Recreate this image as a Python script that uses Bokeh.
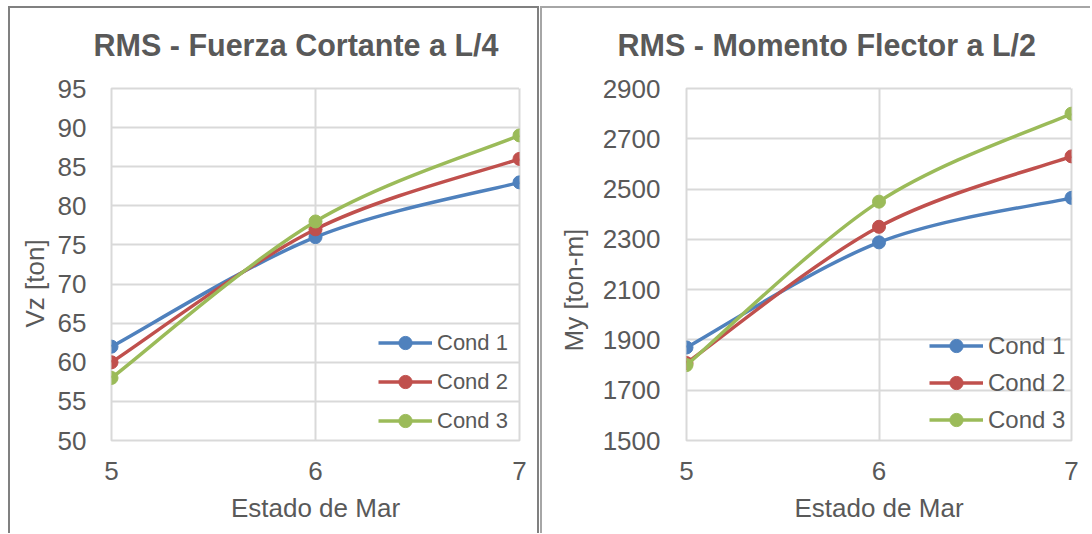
from bokeh.plotting import figure
from bokeh.layouts import row
from bokeh.models import (Range1d, FixedTicker, Legend, LegendItem, ColumnDataSource,
                          Title, LinearAxis)
from bokeh.embed import file_html
from bokeh.resources import INLINE

# ---- data ----
estado = [5, 6, 7]
series_names = ["Cond 1", "Cond 2", "Cond 3"]
vz_cond1 = [62, 76, 83]
vz_cond2 = [60, 77, 86]
vz_cond3 = [58, 78, 89]
my_cond1 = [1870, 2288, 2465]
my_cond2 = [1808, 2350, 2630]
my_cond3 = [1800, 2450, 2800]
vz_ticks = [50, 55, 60, 65, 70, 75, 80, 85, 90, 95]
my_ticks = [1500, 1700, 1900, 2100, 2300, 2500, 2700, 2900]
x_ticks = [5, 6, 7]

colors = ["#4F81BD", "#C0504D", "#9BBB59"]
TXT = "#595959"
GRID = "#D9D9D9"
FONT = "Liberation Sans"
H = 525


def smooth_segments(xs, ys):
    """Cardinal (Catmull-Rom) Bezier control points, like a smoothed Excel line."""
    n = len(xs)
    d = dict(x0=[], y0=[], x1=[], y1=[], cx0=[], cy0=[], cx1=[], cy1=[])
    for i in range(n - 1):
        xp, yp = (xs[i - 1], ys[i - 1]) if i > 0 else (xs[i], ys[i])
        xn, yn = (xs[i + 2], ys[i + 2]) if i + 2 < n else (xs[i + 1], ys[i + 1])
        d["x0"].append(xs[i]); d["y0"].append(ys[i])
        d["x1"].append(xs[i + 1]); d["y1"].append(ys[i + 1])
        d["cx0"].append(xs[i] + (xs[i + 1] - xp) / 6.0)
        d["cy0"].append(ys[i] + (ys[i + 1] - yp) / 6.0)
        d["cx1"].append(xs[i + 1] - (xn - xs[i]) / 6.0)
        d["cy1"].append(ys[i + 1] - (yn - ys[i]) / 6.0)
    return ColumnDataSource(d)


def make_chart(title, ylabel, series, yticks, width, left, frame_w, title_offset,
               tick_standoff, ylab_offset, ylab_standoff, legend_size, legend_x,
               legend_y, item_h, styles):
    p = figure(width=width, height=H, output_backend="svg", toolbar_location=None,
               x_range=Range1d(5, 7), y_range=Range1d(yticks[0], yticks[-1]),
               min_border_left=left, min_border_right=width - left - frame_w,
               min_border_top=80, min_border_bottom=H - 80 - 350, styles=styles)
    p.frame_width = frame_w
    p.frame_height = 350
    p.background_fill_color = "white"
    p.border_fill_color = "white"
    p.outline_line_color = GRID
    p.outline_line_width = 2

    p.title.text = title
    p.title.text_font = FONT
    p.title.text_font_size = "30.5px"
    p.title.text_font_style = "bold"
    p.title.text_color = TXT
    p.title.align = "left"
    p.title.offset = title_offset
    p.title.standoff = 0

    for g in (p.xgrid, p.ygrid):
        g.grid_line_color = GRID
        g.grid_line_width = 2

    xa = p.below[0]
    ya = p.left[0]
    xa.ticker = FixedTicker(ticks=x_ticks)
    ya.ticker = FixedTicker(ticks=yticks)
    for ax in (xa, ya):
        ax.axis_line_color = None
        ax.major_tick_line_color = None
        ax.minor_tick_line_color = None
        ax.major_label_text_font = FONT
        ax.major_label_text_font_size = "26px"
        ax.major_label_text_color = TXT
        ax.axis_label_text_font = FONT
        ax.axis_label_text_font_size = "26px"
        ax.axis_label_text_font_style = "normal"
        ax.axis_label_text_color = TXT
    xa.axis_label = "Estado de Mar"
    xa.major_label_standoff = 15
    xa.axis_label_standoff = 10
    ya.major_label_standoff = tick_standoff

    # blank strip above the plot area (white, label-less tick at the right edge),
    # so that the chart title sits higher as in the original
    spacer = LinearAxis(ticker=FixedTicker(ticks=[x_ticks[-1]]), axis_line_color=None,
                        major_tick_line_color="white", major_tick_line_width=1,
                        minor_tick_line_color=None, major_tick_out=27, major_tick_in=0,
                        major_label_standoff=0, major_label_text_font_size="1px",
                        major_label_overrides={x_ticks[-1]: ""})
    p.add_layout(spacer, "above")

    # y-axis title, placed like Excel's (a little below the plot-area centre)
    ytitle = Title(text=ylabel, align="left", offset=ylab_offset, standoff=ylab_standoff,
                   vertical_align="bottom", text_font=FONT, text_font_size="26px",
                   text_font_style="normal", text_color=TXT)
    p.add_layout(ytitle, "left")

    items = []
    for name, ys, c in zip(series_names, series, colors):
        src = smooth_segments(estado, ys)
        p.bezier(x0="x0", y0="y0", x1="x1", y1="y1", cx0="cx0", cy0="cy0",
                 cx1="cx1", cy1="cy1", source=src, line_color=c, line_width=3.5)
        lr = p.line(estado, ys, line_color=c, line_width=3.5, visible=False)
        sr = p.scatter(estado, ys, size=13, fill_color=c, line_color=c)
        items.append(LegendItem(label=name, renderers=[lr, sr]))

    leg = Legend(items=items, location=(legend_x, legend_y), orientation="vertical")
    leg.background_fill_alpha = 0
    leg.border_line_color = None
    leg.padding = 0
    leg.margin = 0
    leg.spacing = 0
    leg.glyph_width = 54
    leg.glyph_height = 33
    leg.label_height = item_h
    leg.label_standoff = 5
    leg.label_text_font = FONT
    leg.label_text_font_size = legend_size
    leg.label_text_color = TXT
    p.add_layout(leg, "center")
    return p


s1 = {"margin-left": "8px", "margin-top": "6px",
      "border-left": "2px solid #808080", "border-top": "2px solid #808080",
      "border-right": "2px solid #808080"}
s2 = {"margin-left": "1px", "margin-top": "6px",
      "border-left": "2px solid #A6A6A6", "border-top": "2px solid #A6A6A6"}

p1 = make_chart("RMS - Fuerza Cortante a L/4", "Vz [ton]",
                [vz_cond1, vz_cond2, vz_cond3], vz_ticks, 527, 101, 404, -18,
                19, 113, 10, "22px", 267, 0, 39, s1)
p2 = make_chart("RMS - Momento Flector a L/2", "My [ton-m]",
                [my_cond1, my_cond2, my_cond3], my_ticks, 548, 144, 383, -69,
                20, 89, 22, "24px", 243, 2, 37, s2)

layout = row(p1, p2, spacing=0)
open("out.html", "w").write(file_html(layout, INLINE))
